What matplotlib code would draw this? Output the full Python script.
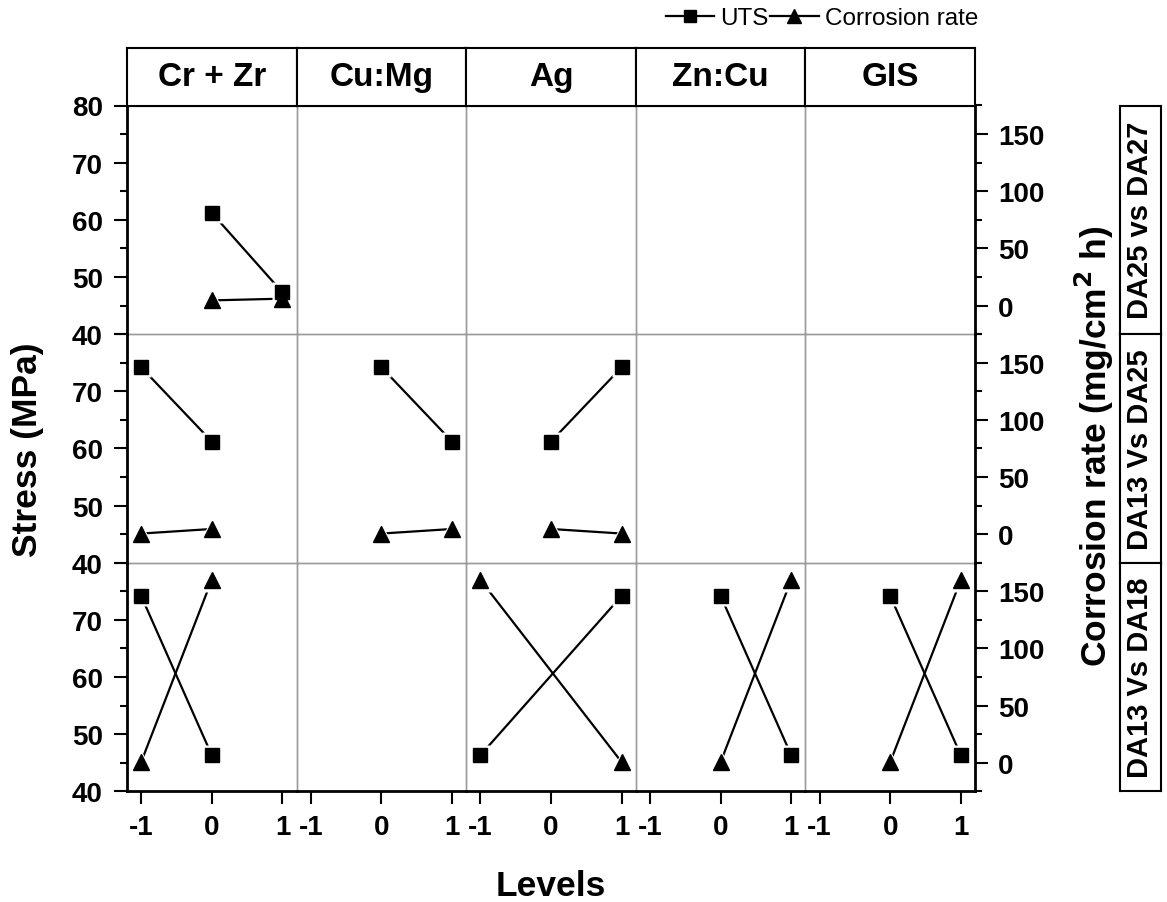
import matplotlib
matplotlib.use("Agg")
import matplotlib.pyplot as plt
from matplotlib.lines import Line2D
from matplotlib.ticker import FixedLocator, MultipleLocator, NullLocator

plt.rcParams["font.family"] = ["Liberation Sans", "DejaVu Sans"]

# Factors (columns) and sample comparisons (rows)
factors = ["Cr + Zr", "Cu:Mg", "Ag", "Zn:Cu", "GIS"]
comparisons = ["DA25 vs DA27", "DA13 Vs DA25", "DA13 Vs DA18"]
level_ticks = [-1, 0, 1]

# Row 1: DA25 vs DA27
row1_levels = [[0, 1], None, None, None, None]
row1_uts = [[61.2, 47.3], None, None, None, None]
row1_corr = [[4.5, 6.0], None, None, None, None]

# Row 2: DA13 vs DA25
row2_levels = [[-1, 0], [0, 1], [0, 1], None, None]
row2_uts = [[74.2, 61.2], [74.2, 61.2], [61.2, 74.2], None, None]
row2_corr = [[0.5, 4.5], [0.5, 4.5], [4.5, 0.5], None, None]

# Row 3: DA13 vs DA18
row3_levels = [[-1, 0], None, [-1, 1], [0, 1], [0, 1]]
row3_uts = [[74.2, 46.3], None, [46.3, 74.2], [74.2, 46.3], [74.2, 46.3]]
row3_corr = [[0.5, 160.0], None, [160.0, 0.5], [0.5, 160.0], [0.5, 160.0]]

rows_levels = [row1_levels, row2_levels, row3_levels]
rows_uts = [row1_uts, row2_uts, row3_uts]
rows_corr = [row1_corr, row2_corr, row3_corr]

W, H = 1167, 903
fig = plt.figure(figsize=(W / 100, H / 100), dpi=100)

# panel block in pixel units
L, R, T, B = 127.0, 975.0, 106.5, 792.3
pw = (R - L) / 5
ph = (B - T) / 3
head_top = 49.0
lab_l, lab_r = 1120.0, 1161.0


def frac_box(x0, y0, x1, y1):
    return [x0 / W, 1 - y1 / H, (x1 - x0) / W, (y1 - y0) / H]


grey = "#9a9a9a"
tick_fs = 20
label_fs = 25.5
bold = dict(fontweight="bold")
sq_ms, tri_ms = 9.5, 11.5

for r in range(3):
    for c in range(5):
        x0 = L + c * pw
        y0 = T + r * ph
        ax = fig.add_axes(frac_box(x0, y0, x0 + pw, y0 + ph))
        ax.set_xlim(-1.2, 1.2)
        ax.set_ylim(40, 80)
        ax.patch.set_alpha(0)
        ax2 = ax.twinx()
        ax2.set_ylim(-25, 175)
        for s in ax2.spines.values():
            s.set_visible(False)

        # spines: outer black, inner grey
        for side in ["left", "right", "top", "bottom"]:
            sp = ax.spines[side]
            outer = ((side == "left" and c == 0) or (side == "right" and c == 4)
                     or (side == "bottom" and r == 2))
            if outer:
                sp.set_color("black")
                sp.set_linewidth(2.0)
                sp.set_zorder(5)
            elif side == "top" and r == 0:
                sp.set_color("black")
                sp.set_linewidth(1.5)
            else:
                sp.set_color(grey)
                sp.set_linewidth(1.0)

        # left stress axis
        if c == 0:
            ax.yaxis.set_major_locator(FixedLocator([40, 50, 60, 70, 80]))
            ax.yaxis.set_minor_locator(FixedLocator([45, 55, 65, 75]))
            ax.tick_params(axis="y", which="major", direction="out", length=9.5,
                           width=1.5, labelsize=tick_fs, pad=8)
            ax.tick_params(axis="y", which="minor", direction="out", length=5,
                           width=1.5)
            labels = ["40", "50", "60", "70", "80" if r == 0 else ""]
            ax.set_yticklabels(labels, **bold)
        else:
            ax.yaxis.set_major_locator(NullLocator())
            ax.yaxis.set_minor_locator(NullLocator())

        # right corrosion axis
        if c == 4:
            ax2.yaxis.set_major_locator(FixedLocator([0, 50, 100, 150]))
            ax2.yaxis.set_minor_locator(MultipleLocator(25))
            ax2.tick_params(axis="y", which="major", direction="out", length=9.5,
                            width=1.5, labelsize=tick_fs, pad=7)
            ax2.tick_params(axis="y", which="minor", direction="out", length=5,
                            width=1.5)
            ax2.set_yticklabels(["0", "50", "100", "150"], **bold)
        else:
            ax2.yaxis.set_major_locator(NullLocator())
            ax2.yaxis.set_minor_locator(NullLocator())

        # level axis
        if r == 2:
            ax.xaxis.set_major_locator(FixedLocator(level_ticks))
            ax.tick_params(axis="x", which="major", direction="out", length=9.5,
                           width=1.5, labelsize=tick_fs, pad=7)
            ax.set_xticklabels([str(v) for v in level_ticks], **bold)
        else:
            ax.xaxis.set_major_locator(NullLocator())
        ax.xaxis.set_minor_locator(NullLocator())

        lv = rows_levels[r][c]
        if lv is not None:
            uts, corr = rows_uts[r][c], rows_corr[r][c]
            # UTS uses the stress scale of the host axes, corrosion the twin scale;
            # both are drawn on the twin so halos and markers stack cleanly
            t_uts = ax.transData
            ax2.plot(lv, uts, color="black", lw=1.6, transform=t_uts,
                     zorder=2, clip_on=False)
            ax2.plot(lv, corr, color="black", lw=1.6, zorder=2, clip_on=False)
            ax2.plot(lv, uts, ls="none", marker="s", ms=sq_ms + 5, mfc="white",
                     mec="none", transform=t_uts, zorder=3, clip_on=False)
            ax2.plot(lv, corr, ls="none", marker="^", ms=tri_ms + 6, mfc="white",
                     mec="none", zorder=3, clip_on=False)
            ax2.plot(lv, uts, ls="none", marker="s", ms=sq_ms, color="black",
                     transform=t_uts, zorder=4, clip_on=False)
            ax2.plot(lv, corr, ls="none", marker="^", ms=tri_ms, color="black",
                     zorder=4, clip_on=False)

# column header boxes
for c, name in enumerate(factors):
    x0 = L + c * pw
    hax = fig.add_axes(frac_box(x0, head_top, x0 + pw, T))
    hax.set_xticks([])
    hax.set_yticks([])
    for s in hax.spines.values():
        s.set_linewidth(1.5)
    hax.text(0.5, 0.5, name, ha="center", va="center", fontsize=24,
             transform=hax.transAxes, **bold)

# row label boxes
for r, name in enumerate(comparisons):
    y0 = T + r * ph
    rax = fig.add_axes(frac_box(lab_l, y0, lab_r, y0 + ph))
    rax.set_xticks([])
    rax.set_yticks([])
    for s in rax.spines.values():
        s.set_linewidth(1.5)
    rax.text(0.5, 0.5, name, ha="center", va="center", rotation=90,
             fontsize=21, transform=rax.transAxes, **bold)

# axis titles
yc = 1 - (T + B) / 2 / H
fig.text(28 / W, yc, "Stress (MPa)", rotation=90, ha="center", va="center",
         fontsize=label_fs, **bold)
fig.text(1094 / W, 1 - 446 / H, "Corrosion rate (mg/cm$^\\mathbf{2}$ h)",
         rotation=90, ha="center", va="center", fontsize=label_fs, **bold)
fig.text((L + R) / 2 / W, 1 - 896.5 / H, "Levels", ha="center", va="baseline",
         fontsize=label_fs, **bold)

# legend
handles = [
    Line2D([], [], color="black", lw=1.6, marker="s", ms=8.5),
    Line2D([], [], color="black", lw=1.6, marker="^", ms=9.5),
]
fig.legend(handles, ["UTS", "Corrosion rate"], loc="upper right",
           bbox_to_anchor=(978 / W, 1 - 8 / H), ncol=2, frameon=False,
           fontsize=17.5, handlelength=2.0, handletextpad=0.25,
           columnspacing=0.05, borderaxespad=0, borderpad=0)

fig.savefig("out.png", dpi=100)
